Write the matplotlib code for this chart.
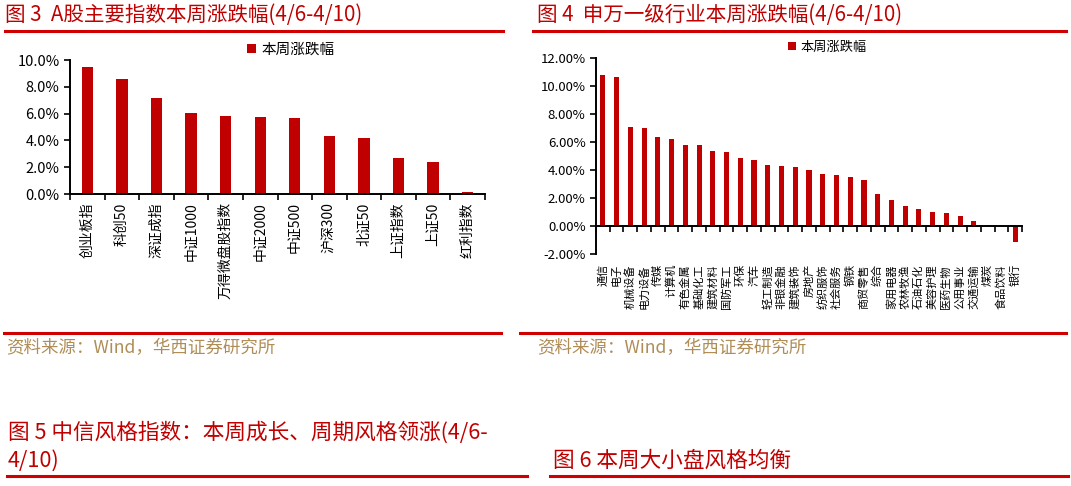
import matplotlib
matplotlib.use('Agg')
import matplotlib.pyplot as plt
from matplotlib.lines import Line2D
from matplotlib.ticker import FuncFormatter

plt.rcParams['font.family'] = ['Noto Sans CJK SC', 'DejaVu Sans']

# A股主要指数本周涨跌幅 (%)
index_names = ['创业板指', '科创50', '深证成指', '中证1000', '万得微盘股指数', '中证2000',
               '中证500', '沪深300', '北证50', '上证指数', '上证50', '红利指数']
index_chg = [9.50, 8.57, 7.14, 6.06, 5.85, 5.77, 5.70, 4.34, 4.20, 2.69, 2.40, 0.12]

# 申万一级行业本周涨跌幅 (%)
ind_names = ['通信', '电子', '机械设备', '电力设备', '传媒', '计算机', '有色金属', '基础化工',
             '建筑材料', '国防军工', '环保', '汽车', '轻工制造', '非银金融', '建筑装饰', '房地产',
             '纺织服饰', '社会服务', '钢铁', '商贸零售', '综合', '家用电器', '农林牧渔', '石油石化',
             '美容护理', '医药生物', '公用事业', '交通运输', '煤炭', '食品饮料', '银行']
ind_chg = [10.80, 10.65, 7.07, 7.02, 6.35, 6.20, 5.80, 5.80, 5.38, 5.32, 4.90, 4.77, 4.36,
           4.30, 4.23, 4.03, 3.74, 3.67, 3.53, 3.32, 2.32, 1.88, 1.42, 1.22, 1.01, 0.94,
           0.75, 0.39, 0.11, 0.0, -1.09]

RED = '#C00000'
LINE_RED = '#D00000'
SRC = '#B08D57'
W, H = 1071, 486

fig = plt.figure(figsize=(W / 100, H / 100), dpi=100)


def px_line(x0, x1, y, lw=2.2):
    fig.add_artist(Line2D([x0 / W, x1 / W], [1 - y / H, 1 - y / H], color=LINE_RED, lw=lw))


def px_text(x, y, s, size, color=RED):
    fig.text(x / W, 1 - y / H, s, fontsize=size, color=color, va='center', ha='left')


# ---- headers / footers ----
px_text(5, 15, '图 3  A股主要指数本周涨跌幅(4/6-4/10)', 14.8)
px_text(537, 15, '图 4  申万一级行业本周涨跌幅(4/6-4/10)', 14.8)
px_line(5, 503, 31)
px_line(533, 1066, 31)

px_line(4, 501, 333)
px_line(520, 1066, 333)
px_text(6, 348, '资料来源：Wind，华西证券研究所', 12.6, SRC)
px_text(537, 348, '资料来源：Wind，华西证券研究所', 12.6, SRC)

px_text(8, 433, '图 5 中信风格指数：本周成长、周期风格领涨(4/6-', 15.6)
px_text(8, 461, '4/10)', 15.6)
px_text(553, 461, '图 6 本周大小盘风格均衡', 15.6)
px_line(7, 527, 476)
px_line(550, 1068, 476)

# ---- left chart ----
ax1 = fig.add_axes([70 / W, 1 - 194 / H, 415 / W, 134 / H])
x1 = list(range(len(index_names)))
ax1.bar(x1, index_chg, width=0.33, color=RED, label='本周涨跌幅')
ax1.set_xlim(-0.5, len(index_names) - 0.5)
ax1.set_ylim(0, 10)
ax1.set_yticks([0, 2, 4, 6, 8, 10])
ax1.yaxis.set_major_formatter(FuncFormatter(lambda v, p: f'{v:.1f}%'))
ax1.set_xticks(x1, index_names, rotation=90, fontsize=10)
ax1.set_xticks([i - 0.5 for i in range(len(index_names) + 1)], minor=True)
ax1.tick_params(axis='x', which='major', length=0, pad=6)
ax1.tick_params(axis='x', which='minor', length=4, width=1.2, direction='out')
ax1.tick_params(axis='y', labelsize=10.5, length=4, width=1.2, colors='black')
for s in ['top', 'right']:
    ax1.spines[s].set_visible(False)
for s in ['left', 'bottom']:
    ax1.spines[s].set_linewidth(1.4)
ax1.legend(loc='center', bbox_to_anchor=(0.532, 1.08), frameon=False, fontsize=10.5,
           handlelength=0.6, handleheight=0.6, handletextpad=0.4, borderaxespad=0)

# ---- right chart ----
ax2 = fig.add_axes([596 / W, 1 - 254.3 / H, 426 / W, 196 / H])
x2 = list(range(len(ind_names)))
ax2.bar(x2, ind_chg, width=0.37, color=RED, label='本周涨跌幅')
ax2.set_xlim(-0.5, len(ind_names) - 0.5)
ax2.set_ylim(-2, 12)
ax2.set_yticks([-2, 0, 2, 4, 6, 8, 10, 12])
ax2.yaxis.set_major_formatter(FuncFormatter(lambda v, p: f'{v:.2f}%'))
ax2.tick_params(axis='y', labelsize=9.5, length=4, width=1.2)
ax2.spines['bottom'].set_position(('data', 0))
ax2.spines['bottom'].set_linewidth(1.4)
ax2.spines['left'].set_linewidth(1.4)
for s in ['top', 'right']:
    ax2.spines[s].set_visible(False)
ax2.set_xticks([i - 0.5 for i in range(len(ind_names) + 1)])
ax2.set_xticklabels([])
ax2.tick_params(axis='x', length=4, width=1.2, direction='out')

sec = ax2.secondary_xaxis('bottom')
sec.set_xticks(x2, ind_names, rotation=90, fontsize=8)
sec.tick_params(length=0, pad=7)
sec.spines['bottom'].set_visible(False)

ax2.legend(loc='center', bbox_to_anchor=(0.543, 1.058), frameon=False, fontsize=9.5,
           handlelength=0.6, handleheight=0.6, handletextpad=0.4, borderaxespad=0)

fig.savefig('out.png', dpi=100)
